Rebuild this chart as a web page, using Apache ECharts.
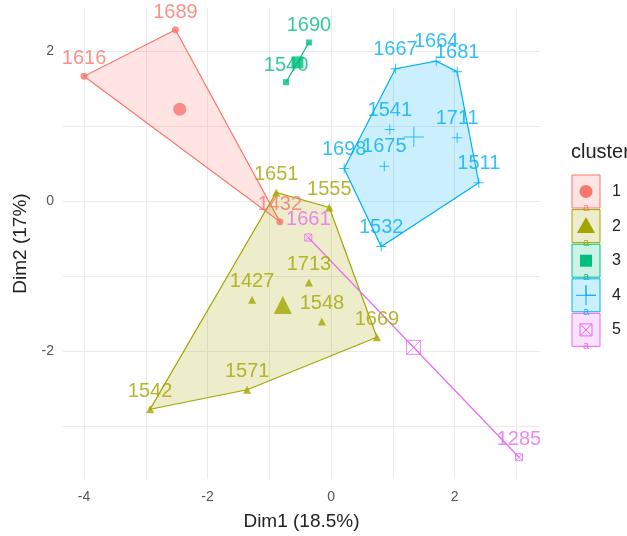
<!DOCTYPE html>
<html>
<head>
<meta charset="utf-8">
<script src="https://cdn.jsdelivr.net/npm/echarts@6/dist/echarts.min.js"></script>
<style>
  html, body { margin: 0; padding: 0; background: #fff; }
  #chart { width: 627px; height: 536px; }
</style>
</head>
<body>
<div id="chart"></div>
<script>
// cluster members (Dim1, Dim2)
const c1Ids = ['1616', '1689', '1432']
const c1X = [-4.0, -2.52, -0.83]
const c1Y = [1.67, 2.29, -0.27]

const c2Ids = ['1651', '1555', '1427', '1713', '1548', '1669', '1571', '1542']
const c2X = [-0.89, -0.03, -1.28, -0.36, -0.15, 0.74, -1.36, -2.93]
const c2Y = [0.12, -0.08, -1.31, -1.08, -1.6, -1.81, -2.51, -2.77]

const c3Ids = ['1690', '1540']
const c3X = [-0.36, -0.73]
const c3Y = [2.12, 1.59]

const c4Ids = ['1667', '1664', '1681', '1541', '1711', '1698', '1675', '1511', '1532']
const c4X = [1.04, 1.70, 2.04, 0.95, 2.04, 0.21, 0.86, 2.39, 0.81]
const c4Y = [1.77, 1.87, 1.73, 0.96, 0.85, 0.44, 0.47, 0.25, -0.6]

const c5Ids = ['1661', '1285']
const c5X = [-0.37, 3.04]
const c5Y = [-0.48, -3.41]

const clusterNames = ['1', '2', '3', '4', '5']
const colors = ['#F8766D', '#A3A500', '#00BF7D', '#00B0F6', '#E76BF3']

const xTicks = [-4, -2, 0, 2]
const xGrid = [-4, -3, -2, -1, 0, 1, 2, 3]
const yTicks = [-2, 0, 2]
const yGrid = [-3, -2, -1, 0, 1, 2]

const FONT = 'Liberation Sans, Arial, sans-serif'

const plusPath = 'path://M0,5L10,5M5,0L5,10'
const boxXPath = 'path://M0,0L10,0L10,10L0,10ZM0,0L10,10M10,0L0,10'

const shapes = [
  { symbol: 'circle', size: 7, big: 13, stroke: false },
  { symbol: 'triangle', size: 8, big: 18, stroke: false },
  { symbol: 'rect', size: 6, big: 12, stroke: false },
  { symbol: plusPath, size: 10, big: 20, stroke: true },
  { symbol: boxXPath, size: 7, big: 14, stroke: true }
]

const clusters = [
  [c1Ids, c1X, c1Y],
  [c2Ids, c2X, c2Y],
  [c3Ids, c3X, c3Y],
  [c4Ids, c4X, c4Y],
  [c5Ids, c5X, c5Y]
]

const withAlpha = (hex, a) => {
  const n = parseInt(hex.slice(1), 16)
  return `rgba(${(n >> 16) & 255}, ${(n >> 8) & 255}, ${n & 255}, ${a})`
}

// monotone chain convex hull
const convexHull = (pts) => {
  if (pts.length < 3) return pts.slice()
  const p = pts.slice().sort((a, b) => a[0] - b[0] || a[1] - b[1])
  const cross = (o, a, b) => (a[0] - o[0]) * (b[1] - o[1]) - (a[1] - o[1]) * (b[0] - o[0])
  const lower = []
  for (const q of p) {
    while (lower.length >= 2 && cross(lower[lower.length - 2], lower[lower.length - 1], q) <= 0) lower.pop()
    lower.push(q)
  }
  const upper = []
  for (let i = p.length - 1; i >= 0; i--) {
    const q = p[i]
    while (upper.length >= 2 && cross(upper[upper.length - 2], upper[upper.length - 1], q) <= 0) upper.pop()
    upper.push(q)
  }
  upper.pop()
  lower.pop()
  return lower.concat(upper)
}

const mean = arr => arr.reduce((s, v) => s + v, 0) / arr.length

const series = []

clusters.forEach(([ids, xs, ys], k) => {
  const color = colors[k]
  const hull = convexHull(xs.map((x, i) => [x, ys[i]]))
  series.push({
    type: 'custom',
    silent: true,
    z: 1,
    clip: false,
    data: hull,
    renderItem: (params, api) => {
      if (params.dataIndex !== 0) return null
      return {
        type: 'polygon',
        shape: { points: hull.map(h => api.coord(h)) },
        style: { fill: withAlpha(color, 0.2), stroke: color, lineWidth: 1.2 }
      }
    }
  })
})

clusters.forEach(([ids, xs, ys], k) => {
  const color = colors[k]
  const sh = shapes[k]
  const itemStyle = sh.stroke
    ? { color: 'rgba(0,0,0,0)', borderColor: color, borderWidth: 1 }
    : { color: color }
  series.push({
    type: 'scatter',
    name: clusterNames[k],
    z: 3,
    symbol: sh.symbol,
    symbolSize: sh.size,
    itemStyle,
    data: xs.map((x, i) => ({ value: [x, ys[i]], name: ids[i] })),
    label: {
      show: true,
      formatter: '{b}',
      position: 'top',
      distance: 4,
      color: color,
      fontSize: 20,
      fontFamily: FONT
    }
  })
  // cluster centre
  series.push({
    type: 'scatter',
    z: 3,
    symbol: sh.symbol,
    symbolSize: sh.big,
    itemStyle,
    data: [[mean(xs), mean(ys)]]
  })
})

// legend drawn as ggplot-like keys
const legendEls = [{
  type: 'text',
  left: 571,
  top: 142,
  style: { text: 'cluster', fontSize: 20, fontFamily: FONT, fill: '#222' }
}]
colors.forEach((c, k) => {
  const top = 175 + k * 34.6
  const cx = 586
  const cy = top + 16.5
  legendEls.push({
    type: 'rect',
    shape: { x: 572, y: top, width: 28, height: 33 },
    style: { fill: withAlpha(c, 0.2), stroke: c, lineWidth: 1 }
  })
  let sym
  if (k === 0) sym = { type: 'circle', shape: { cx, cy, r: 6.5 }, style: { fill: c } }
  else if (k === 1) sym = { type: 'polygon', shape: { points: [[cx, cy - 9], [cx + 9, cy + 7], [cx - 9, cy + 7]] }, style: { fill: c } }
  else if (k === 2) sym = { type: 'rect', shape: { x: cx - 6, y: cy - 6, width: 12, height: 12 }, style: { fill: c } }
  else if (k === 3) sym = { type: 'polyline', shape: { points: [[cx - 10, cy], [cx + 10, cy], [cx, cy], [cx, cy - 10], [cx, cy + 10]] }, style: { stroke: c, lineWidth: 1, fill: null } }
  else sym = { type: 'group', children: [
    { type: 'rect', shape: { x: cx - 6, y: cy - 6, width: 12, height: 12 }, style: { fill: null, stroke: c, lineWidth: 1 } },
    { type: 'polyline', shape: { points: [[cx - 6, cy - 6], [cx + 6, cy + 6]] }, style: { stroke: c, lineWidth: 1 } },
    { type: 'polyline', shape: { points: [[cx + 6, cy - 6], [cx - 6, cy + 6]] }, style: { stroke: c, lineWidth: 1 } }
  ] }
  legendEls.push(sym)
  legendEls.push({
    type: 'text',
    x: cx,
    y: top + 33,
    style: { text: 'a', fontSize: 11, fontFamily: FONT, fill: c, align: 'center', verticalAlign: 'middle' }
  })
  legendEls.push({
    type: 'text',
    x: 612,
    y: cy,
    style: { text: clusterNames[k], fontSize: 16, fontFamily: FONT, fill: '#222', verticalAlign: 'middle' }
  })
})

const chart = echarts.init(document.getElementById('chart'))
chart.setOption({
  backgroundColor: '#fff',
  animation: false,
  grid: { left: 63, top: 8, width: 477, height: 472 },
  xAxis: {
    type: 'value',
    min: -4.34,
    max: 3.38,
    name: 'Dim1 (18.5%)',
    nameLocation: 'middle',
    nameGap: 33,
    nameTextStyle: { fontSize: 19, fontFamily: FONT, color: '#222' },
    axisLine: { show: false },
    axisTick: { show: false, customValues: xGrid },
    axisLabel: { customValues: xTicks, fontSize: 14, fontFamily: FONT, color: '#555', margin: 11 },
    splitLine: { lineStyle: { color: '#EBEBEB', width: 1 } }
  },
  yAxis: {
    type: 'value',
    min: -3.70,
    max: 2.58,
    name: 'Dim2 (17%)',
    nameLocation: 'middle',
    nameRotate: 90,
    nameGap: 31,
    nameTextStyle: { fontSize: 19, fontFamily: FONT, color: '#222' },
    axisLine: { show: false },
    axisTick: { show: false, customValues: yGrid },
    axisLabel: { customValues: yTicks, fontSize: 14, fontFamily: FONT, color: '#555', margin: 9 },
    splitLine: { lineStyle: { color: '#EBEBEB', width: 1 } }
  },
  graphic: legendEls,
  series
})
</script>
</body>
</html>
